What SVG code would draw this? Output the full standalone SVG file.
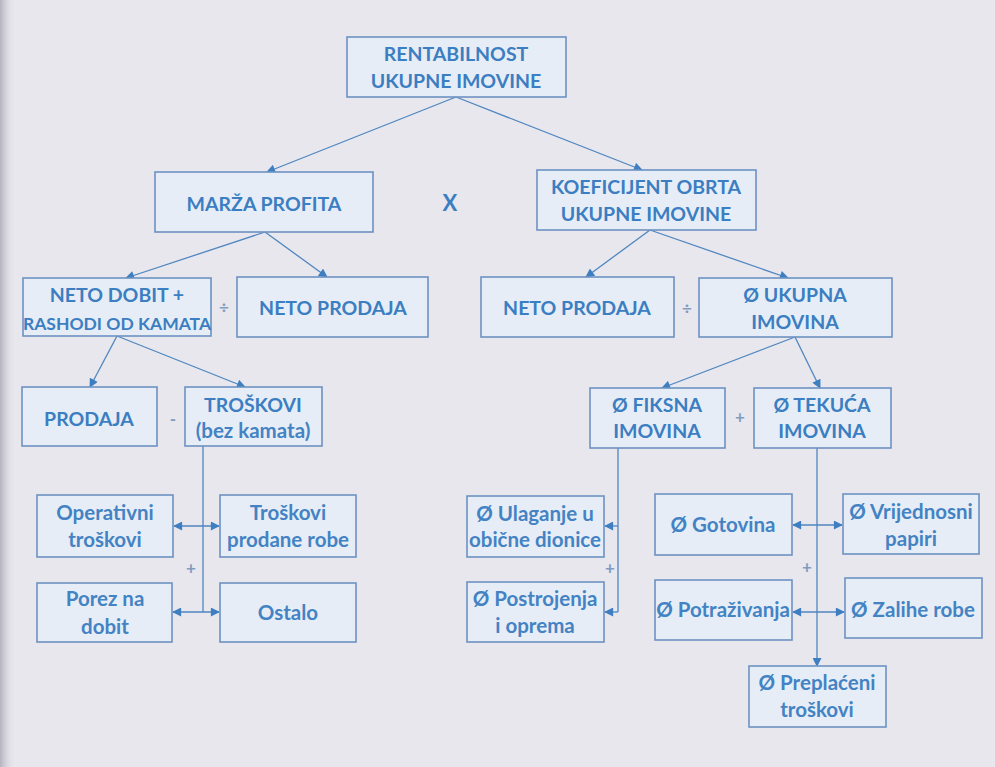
<svg xmlns="http://www.w3.org/2000/svg" width="995" height="767" viewBox="0 0 995 767">
<defs>
<linearGradient id="edge" x1="0" y1="0" x2="1" y2="0">
<stop offset="0" stop-color="#b4b3bd"/>
<stop offset="1" stop-color="#e8e7ee" stop-opacity="0"/>
</linearGradient>
<marker id="ah" viewBox="0 0 10 10" refX="9" refY="5" markerWidth="10" markerHeight="9" markerUnits="userSpaceOnUse" orient="auto-start-reverse">
<path d="M0,0 L10,5 L0,10 Z" fill="#3d7fc1"/>
</marker>
<style>
.bx{fill:#e7edf6;stroke:#6d92c2;stroke-width:1.6}
.t{font-family:Lato,"Open Sans","Liberation Sans",sans-serif;font-weight:bold;fill:#3b7ec2;text-anchor:middle}
.c{font-size:19.5px}
.m{font-size:20.5px;fill:#4383c4}
.op{font-family:Lato,"Liberation Sans",sans-serif;font-weight:bold;fill:#7f9cc0;text-anchor:middle;font-size:17px}
.ln{fill:none;stroke:#4f86c0;stroke-width:1.3}
.ar{marker-end:url(#ah)}
.da{marker-start:url(#ah);marker-end:url(#ah)}
</style>
</defs>
<rect x="0" y="0" width="995" height="767" fill="#e8e7ee"/>
<rect x="0" y="0" width="16" height="767" fill="url(#edge)"/>

<g id="connectors">
<line class="ln ar" x1="456" y1="97" x2="267" y2="172"/>
<line class="ln ar" x1="456" y1="97" x2="642" y2="170"/>
<line class="ln ar" x1="265" y1="232" x2="126" y2="278"/>
<line class="ln ar" x1="265" y1="232" x2="327" y2="277"/>
<line class="ln ar" x1="650" y1="230" x2="586" y2="277"/>
<line class="ln ar" x1="650" y1="230" x2="788" y2="278"/>
<line class="ln ar" x1="117" y1="336" x2="90" y2="387"/>
<line class="ln ar" x1="117" y1="336" x2="245" y2="387"/>
<line class="ln ar" x1="795" y1="337" x2="662" y2="388"/>
<line class="ln ar" x1="795" y1="337" x2="820" y2="388"/>
<line class="ln" x1="203" y1="446" x2="203" y2="612"/>
<line class="ln da" x1="174" y1="526" x2="219" y2="526"/>
<line class="ln da" x1="173" y1="612" x2="219" y2="612"/>
<line class="ln" x1="618" y1="448" x2="618" y2="612"/>
<line class="ln ar" x1="618" y1="526" x2="605" y2="526"/>
<line class="ln ar" x1="618" y1="612" x2="605" y2="612"/>
<line class="ln ar" x1="817" y1="448" x2="817" y2="666"/>
<line class="ln da" x1="793" y1="525" x2="842" y2="525"/>
<line class="ln da" x1="793" y1="612" x2="844" y2="612"/>
</g>

<g id="n-rentabilnost">
<rect class="bx" x="347" y="37" width="219" height="60"/>
<text class="t c" x="456" y="61">RENTABILNOST</text>
<text class="t c" x="456" y="88">UKUPNE IMOVINE</text>
</g>
<g id="n-marza">
<rect class="bx" x="155" y="172" width="218" height="60"/>
<text class="t c" x="264" y="211">MARŽA PROFITA</text>
</g>
<g id="op-x"><text class="t" x="450" y="211" font-size="22">X</text></g>
<g id="n-koeficijent">
<rect class="bx" x="537" y="170" width="219" height="60"/>
<text class="t c" x="646" y="194">KOEFICIJENT OBRTA</text>
<text class="t c" x="646" y="221">UKUPNE IMOVINE</text>
</g>
<g id="n-netodobit">
<rect class="bx" x="23" y="278" width="188" height="58"/>
<text class="t c" x="117" y="302">NETO DOBIT +</text>
<text class="t" x="117" y="330" font-size="17.5px">RASHODI OD KAMATA</text>
</g>
<g id="op-div1"><text class="op" x="224" y="313">÷</text></g>
<g id="n-netoprodaja1">
<rect class="bx" x="237" y="277" width="191" height="60"/>
<text class="t c" x="333" y="315">NETO PRODAJA</text>
</g>
<g id="n-netoprodaja2">
<rect class="bx" x="481" y="277" width="193" height="60"/>
<text class="t c" x="577" y="315">NETO PRODAJA</text>
</g>
<g id="op-div2"><text class="op" x="687" y="314">÷</text></g>
<g id="n-ukupna">
<rect class="bx" x="699" y="278" width="193" height="59"/>
<text class="t c" x="795" y="302">Ø UKUPNA</text>
<text class="t c" x="795" y="329">IMOVINA</text>
</g>
<g id="n-prodaja">
<rect class="bx" x="22" y="387" width="135" height="59"/>
<text class="t c" x="89" y="426">PRODAJA</text>
</g>
<g id="op-minus"><text class="op" x="173" y="425">-</text></g>
<g id="n-troskovi">
<rect class="bx" x="185" y="387" width="137" height="59"/>
<text class="t c" x="253" y="412">TROŠKOVI</text>
<text class="t m" x="253" y="438">(bez kamata)</text>
</g>
<g id="n-fiksna">
<rect class="bx" x="590" y="388" width="135" height="60"/>
<text class="t c" x="657" y="412">Ø FIKSNA</text>
<text class="t c" x="657" y="438">IMOVINA</text>
</g>
<g id="op-plus1"><text class="op" x="740" y="423">+</text></g>
<g id="n-tekuca">
<rect class="bx" x="754" y="388" width="137" height="60"/>
<text class="t c" x="822" y="412">Ø TEKUĆA</text>
<text class="t c" x="822" y="438">IMOVINA</text>
</g>
<g id="n-operativni">
<rect class="bx" x="37" y="495" width="136" height="62"/>
<text class="t m" x="105" y="520">Operativni</text>
<text class="t m" x="105" y="547">troškovi</text>
</g>
<g id="n-prodanerobe">
<rect class="bx" x="220" y="495" width="136" height="62"/>
<text class="t m" x="288" y="520">Troškovi</text>
<text class="t m" x="288" y="547">prodane robe</text>
</g>
<g id="op-plus2"><text class="op" x="191" y="574">+</text></g>
<g id="n-porez">
<rect class="bx" x="37" y="583" width="135" height="59"/>
<text class="t m" x="105" y="606">Porez na</text>
<text class="t m" x="105" y="634">dobit</text>
</g>
<g id="n-ostalo">
<rect class="bx" x="220" y="583" width="136" height="59"/>
<text class="t m" x="288" y="620">Ostalo</text>
</g>
<g id="n-ulaganje">
<rect class="bx" x="467" y="496" width="137" height="61"/>
<text class="t m" x="535" y="521">Ø Ulaganje u</text>
<text class="t m" x="535" y="547">obične dionice</text>
</g>
<g id="op-plus3"><text class="op" x="610" y="574">+</text></g>
<g id="n-postrojenja">
<rect class="bx" x="467" y="582" width="137" height="60"/>
<text class="t m" x="535" y="606">Ø Postrojenja</text>
<text class="t m" x="535" y="633">i oprema</text>
</g>
<g id="n-gotovina">
<rect class="bx" x="655" y="494" width="137" height="61"/>
<text class="t m" x="723" y="532">Ø Gotovina</text>
</g>
<g id="n-vrijednosni">
<rect class="bx" x="843" y="494" width="136" height="60"/>
<text class="t m" x="911" y="519">Ø Vrijednosni</text>
<text class="t m" x="911" y="546">papiri</text>
</g>
<g id="op-plus4"><text class="op" x="807" y="573">+</text></g>
<g id="n-potrazivanja">
<rect class="bx" x="655" y="580" width="137" height="60"/>
<text class="t m" x="723" y="617">Ø Potraživanja</text>
</g>
<g id="n-zalihe">
<rect class="bx" x="845" y="578" width="137" height="60"/>
<text class="t m" x="913" y="617">Ø Zalihe robe</text>
</g>
<g id="n-preplaceni">
<rect class="bx" x="749" y="666" width="137" height="61"/>
<text class="t m" x="817" y="690">Ø Preplaćeni</text>
<text class="t m" x="817" y="717">troškovi</text>
</g>
</svg>
